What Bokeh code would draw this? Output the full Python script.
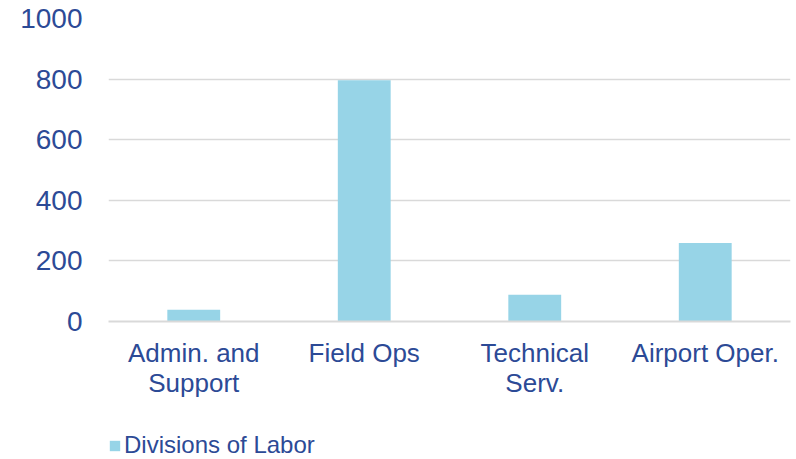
from bokeh.plotting import figure
from bokeh.layouts import column
from bokeh.models import Range1d, Legend, LegendItem, FixedTicker, ColumnDataSource
from bokeh.embed import file_html
from bokeh.resources import INLINE

categories = ["Admin. and\nSupport", "Field Ops", "Technical\nServ.", "Airport Oper."]
values = [39, 796, 88, 259]
y_ticks = [0, 200, 400, 600, 800, 1000]
series_name = "Divisions of Labor"

TEXT = "#2C4A96"
BAR = "#97D4E7"
GRID = "#D9D9D9"
FONT = "Liberation Sans"

src = ColumnDataSource(dict(cat=categories, val=values))

p = figure(width=796, height=400, x_range=categories, y_range=Range1d(0, 1000),
           output_backend="svg", toolbar_location=None,
           min_border_left=108, min_border_right=6, min_border_top=18, min_border_bottom=78)
p.outline_line_color = None
p.background_fill_color = "white"

r = p.vbar(x="cat", top="val", width=0.31, source=src, fill_color=BAR, line_color=None)

p.yaxis.ticker = FixedTicker(ticks=y_ticks)
p.yaxis.axis_line_color = None
p.yaxis.major_tick_line_color = None
p.yaxis.minor_tick_line_color = None
p.yaxis.major_tick_out = 0
p.yaxis.major_label_text_font = FONT
p.yaxis.major_label_text_font_size = "28px"
p.yaxis.major_label_text_color = TEXT
p.yaxis.major_label_standoff = 26

p.xaxis.axis_line_color = GRID
p.xaxis.axis_line_width = 2
p.xaxis.major_tick_line_color = None
p.xaxis.minor_tick_line_color = None
p.xaxis.major_label_text_font = FONT
p.xaxis.major_label_text_font_size = "26px"
p.xaxis.major_label_text_color = TEXT
p.xaxis.major_label_text_line_height = 1.0
p.xaxis.major_label_standoff = 10

p.xgrid.grid_line_color = None
p.ygrid.grid_line_color = GRID
p.ygrid.grid_line_width = 1.5

# legend strip below the chart (its own bar has zero height, so only the legend shows)
lg = figure(width=796, height=59, x_range=Range1d(0, 1), y_range=Range1d(0, 1),
            x_axis_type=None, y_axis_type=None,
            output_backend="svg", toolbar_location=None,
            min_border_left=0, min_border_right=0, min_border_top=0, min_border_bottom=0)
lg.outline_line_color = None
lg.grid.visible = False
lr = lg.vbar(x=[0.5], top=[0], width=0.31, fill_color=BAR, line_color=None)
legend = Legend(items=[LegendItem(label=series_name, renderers=[lr])],
                location=(0, 0), border_line_color=None, background_fill_alpha=0,
                label_text_font=FONT, label_text_font_size="24px", label_text_color=TEXT,
                glyph_width=13, glyph_height=13, label_standoff=3, padding=0, margin=0)
lg.add_layout(legend, "center")

open("out.html", "w").write(file_html(column(p, lg, spacing=0), INLINE))
